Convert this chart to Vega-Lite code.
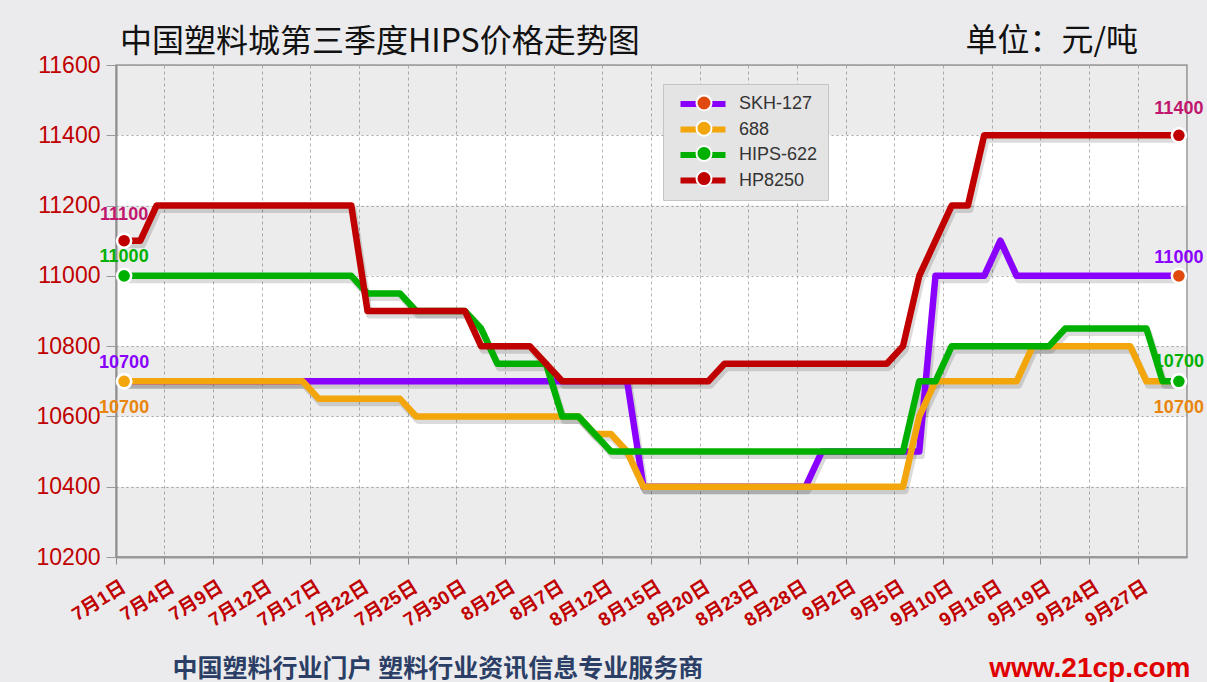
{
  "$schema": "https://vega.github.io/schema/vega-lite/v6.json",
  "width": 1071,
  "height": 492,
  "autosize": {"type": "none"},
  "padding": {"left": 116, "top": 65, "right": 20, "bottom": 125},
  "background": "#ebebed",
  "title": {
    "text": "中国塑料城第三季度HIPS价格走势图",
    "anchor": "start",
    "frame": "group",
    "offset": 15,
    "baseline": "alphabetic",
    "dx": 4,
    "dy": 75,
    "font": "Noto Sans CJK SC",
    "fontSize": 32,
    "fontWeight": "normal",
    "color": "#111111"
  },
  "config": {
    "view": {"fill": "#ffffff", "stroke": "#9a9a9a", "strokeWidth": 1.5}
  },
  "datasets": {
    "bands": [
      {"lo": 10200, "hi": 10400},
      {"lo": 10600, "hi": 10800},
      {"lo": 11000, "hi": 11200},
      {"lo": 11400, "hi": 11600}
    ],
    "prices": [
      {"d": "7月1日", "SKH-127": 10700, "688": 10700, "HIPS-622": 11000, "HP8250": 11100},
      {"d": "7月2日", "SKH-127": 10700, "688": 10700, "HIPS-622": 11000, "HP8250": 11100},
      {"d": "7月3日", "SKH-127": 10700, "688": 10700, "HIPS-622": 11000, "HP8250": 11200},
      {"d": "7月4日", "SKH-127": 10700, "688": 10700, "HIPS-622": 11000, "HP8250": 11200},
      {"d": "7月5日", "SKH-127": 10700, "688": 10700, "HIPS-622": 11000, "HP8250": 11200},
      {"d": "7月8日", "SKH-127": 10700, "688": 10700, "HIPS-622": 11000, "HP8250": 11200},
      {"d": "7月9日", "SKH-127": 10700, "688": 10700, "HIPS-622": 11000, "HP8250": 11200},
      {"d": "7月10日", "SKH-127": 10700, "688": 10700, "HIPS-622": 11000, "HP8250": 11200},
      {"d": "7月11日", "SKH-127": 10700, "688": 10700, "HIPS-622": 11000, "HP8250": 11200},
      {"d": "7月12日", "SKH-127": 10700, "688": 10700, "HIPS-622": 11000, "HP8250": 11200},
      {"d": "7月15日", "SKH-127": 10700, "688": 10700, "HIPS-622": 11000, "HP8250": 11200},
      {"d": "7月16日", "SKH-127": 10700, "688": 10700, "HIPS-622": 11000, "HP8250": 11200},
      {"d": "7月17日", "SKH-127": 10700, "688": 10650, "HIPS-622": 11000, "HP8250": 11200},
      {"d": "7月18日", "SKH-127": 10700, "688": 10650, "HIPS-622": 11000, "HP8250": 11200},
      {"d": "7月19日", "SKH-127": 10700, "688": 10650, "HIPS-622": 11000, "HP8250": 11200},
      {"d": "7月22日", "SKH-127": 10700, "688": 10650, "HIPS-622": 10950, "HP8250": 10900},
      {"d": "7月23日", "SKH-127": 10700, "688": 10650, "HIPS-622": 10950, "HP8250": 10900},
      {"d": "7月24日", "SKH-127": 10700, "688": 10650, "HIPS-622": 10950, "HP8250": 10900},
      {"d": "7月25日", "SKH-127": 10700, "688": 10600, "HIPS-622": 10900, "HP8250": 10900},
      {"d": "7月26日", "SKH-127": 10700, "688": 10600, "HIPS-622": 10900, "HP8250": 10900},
      {"d": "7月29日", "SKH-127": 10700, "688": 10600, "HIPS-622": 10900, "HP8250": 10900},
      {"d": "7月30日", "SKH-127": 10700, "688": 10600, "HIPS-622": 10900, "HP8250": 10900},
      {"d": "7月31日", "SKH-127": 10700, "688": 10600, "HIPS-622": 10850, "HP8250": 10800},
      {"d": "8月1日", "SKH-127": 10700, "688": 10600, "HIPS-622": 10750, "HP8250": 10800},
      {"d": "8月2日", "SKH-127": 10700, "688": 10600, "HIPS-622": 10750, "HP8250": 10800},
      {"d": "8月5日", "SKH-127": 10700, "688": 10600, "HIPS-622": 10750, "HP8250": 10800},
      {"d": "8月6日", "SKH-127": 10700, "688": 10600, "HIPS-622": 10750, "HP8250": 10750},
      {"d": "8月7日", "SKH-127": 10700, "688": 10600, "HIPS-622": 10600, "HP8250": 10700},
      {"d": "8月8日", "SKH-127": 10700, "688": 10600, "HIPS-622": 10600, "HP8250": 10700},
      {"d": "8月9日", "SKH-127": 10700, "688": 10550, "HIPS-622": 10550, "HP8250": 10700},
      {"d": "8月12日", "SKH-127": 10700, "688": 10550, "HIPS-622": 10500, "HP8250": 10700},
      {"d": "8月13日", "SKH-127": 10700, "688": 10500, "HIPS-622": 10500, "HP8250": 10700},
      {"d": "8月14日", "SKH-127": 10400, "688": 10400, "HIPS-622": 10500, "HP8250": 10700},
      {"d": "8月15日", "SKH-127": 10400, "688": 10400, "HIPS-622": 10500, "HP8250": 10700},
      {"d": "8月16日", "SKH-127": 10400, "688": 10400, "HIPS-622": 10500, "HP8250": 10700},
      {"d": "8月19日", "SKH-127": 10400, "688": 10400, "HIPS-622": 10500, "HP8250": 10700},
      {"d": "8月20日", "SKH-127": 10400, "688": 10400, "HIPS-622": 10500, "HP8250": 10700},
      {"d": "8月21日", "SKH-127": 10400, "688": 10400, "HIPS-622": 10500, "HP8250": 10750},
      {"d": "8月22日", "SKH-127": 10400, "688": 10400, "HIPS-622": 10500, "HP8250": 10750},
      {"d": "8月23日", "SKH-127": 10400, "688": 10400, "HIPS-622": 10500, "HP8250": 10750},
      {"d": "8月26日", "SKH-127": 10400, "688": 10400, "HIPS-622": 10500, "HP8250": 10750},
      {"d": "8月27日", "SKH-127": 10400, "688": 10400, "HIPS-622": 10500, "HP8250": 10750},
      {"d": "8月28日", "SKH-127": 10400, "688": 10400, "HIPS-622": 10500, "HP8250": 10750},
      {"d": "8月29日", "SKH-127": 10500, "688": 10400, "HIPS-622": 10500, "HP8250": 10750},
      {"d": "8月30日", "SKH-127": 10500, "688": 10400, "HIPS-622": 10500, "HP8250": 10750},
      {"d": "9月2日", "SKH-127": 10500, "688": 10400, "HIPS-622": 10500, "HP8250": 10750},
      {"d": "9月3日", "SKH-127": 10500, "688": 10400, "HIPS-622": 10500, "HP8250": 10750},
      {"d": "9月4日", "SKH-127": 10500, "688": 10400, "HIPS-622": 10500, "HP8250": 10750},
      {"d": "9月5日", "SKH-127": 10500, "688": 10400, "HIPS-622": 10500, "HP8250": 10800},
      {"d": "9月6日", "SKH-127": 10500, "688": 10600, "HIPS-622": 10700, "HP8250": 11000},
      {"d": "9月9日", "SKH-127": 11000, "688": 10700, "HIPS-622": 10700, "HP8250": 11100},
      {"d": "9月10日", "SKH-127": 11000, "688": 10700, "HIPS-622": 10800, "HP8250": 11200},
      {"d": "9月11日", "SKH-127": 11000, "688": 10700, "HIPS-622": 10800, "HP8250": 11200},
      {"d": "9月12日", "SKH-127": 11000, "688": 10700, "HIPS-622": 10800, "HP8250": 11400},
      {"d": "9月16日", "SKH-127": 11100, "688": 10700, "HIPS-622": 10800, "HP8250": 11400},
      {"d": "9月17日", "SKH-127": 11000, "688": 10700, "HIPS-622": 10800, "HP8250": 11400},
      {"d": "9月18日", "SKH-127": 11000, "688": 10800, "HIPS-622": 10800, "HP8250": 11400},
      {"d": "9月19日", "SKH-127": 11000, "688": 10800, "HIPS-622": 10800, "HP8250": 11400},
      {"d": "9月22日", "SKH-127": 11000, "688": 10800, "HIPS-622": 10850, "HP8250": 11400},
      {"d": "9月23日", "SKH-127": 11000, "688": 10800, "HIPS-622": 10850, "HP8250": 11400},
      {"d": "9月24日", "SKH-127": 11000, "688": 10800, "HIPS-622": 10850, "HP8250": 11400},
      {"d": "9月25日", "SKH-127": 11000, "688": 10800, "HIPS-622": 10850, "HP8250": 11400},
      {"d": "9月26日", "SKH-127": 11000, "688": 10800, "HIPS-622": 10850, "HP8250": 11400},
      {"d": "9月27日", "SKH-127": 11000, "688": 10700, "HIPS-622": 10850, "HP8250": 11400},
      {"d": "9月29日", "SKH-127": 11000, "688": 10700, "HIPS-622": 10700, "HP8250": 11400},
      {"d": "9月30日", "SKH-127": 11000, "688": 10700, "HIPS-622": 10700, "HP8250": 11400}
    ]
  },
  "resolve": {"scale": {"y": "independent"}},
  "layer": [
    {
      "data": {"name": "bands"},
      "mark": {"type": "rect", "fill": "#000000", "fillOpacity": 0.075},
      "encoding": {
        "y": {
          "field": "lo",
          "type": "quantitative",
          "scale": {"domain": [10200, 11600], "nice": false, "zero": false},
          "axis": {
            "orient": "right",
            "labels": false,
            "ticks": false,
            "domain": false,
            "grid": false,
            "title": "www.21cp.com",
            "titleAngle": 0,
            "titleX": 3,
            "titleY": 611,
            "titleAlign": "right",
            "titleBaseline": "alphabetic",
            "titleColor": "#e00000",
            "titleFont": "Liberation Sans",
            "titleFontSize": 28,
            "titleFontWeight": "bold"
          }
        },
        "y2": {"field": "hi"}
      }
    },
    {
      "data": {"name": "prices"},
      "transform": [
        {"fold": ["SKH-127", "688", "HIPS-622", "HP8250"], "as": ["series", "price"]}
      ],
      "encoding": {
        "x": {
          "field": "d",
          "type": "ordinal",
          "sort": null,
          "bandPosition": 0.5,
          "scale": {"type": "band", "paddingInner": 0, "paddingOuter": 0},
          "axis": {
            "values": ["7月1日", "7月4日", "7月9日", "7月12日", "7月17日", "7月22日", "7月25日", "7月30日", "8月2日", "8月7日", "8月12日", "8月15日", "8月20日", "8月23日", "8月28日", "9月2日", "9月5日", "9月10日", "9月16日", "9月19日", "9月24日", "9月27日"],
            "bandPosition": 0,
            "labelOffset": -5,
            "labelAngle": -32,
            "labelAlign": "right",
            "labelBaseline": "top",
            "labelPadding": 13,
            "labelOverlap": false,
            "labelColor": "#c00000",
            "labelFont": "Liberation Sans, Noto Sans CJK SC",
            "labelFontSize": 19,
            "labelFontWeight": "bold",
            "tickColor": "#888888",
            "tickSize": 7,
            "domainColor": "#999999",
            "domainWidth": 2,
            "grid": true,
            "gridColor": "#b5b5b5",
            "gridDash": [3, 3],
            "title": "中国塑料行业门户 塑料行业资讯信息专业服务商",
            "titleX": 56,
            "titleY": 119,
            "titleAlign": "left",
            "titleAnchor": "start",
            "titleBaseline": "alphabetic",
            "titleColor": "#2b3f66",
            "titleFont": "Noto Sans CJK SC",
            "titleFontSize": 25,
            "titleFontWeight": "bold"
          }
        },
        "y": {
          "field": "price",
          "type": "quantitative",
          "scale": {"domain": [10200, 11600], "nice": false, "zero": false},
          "axis": {
            "orient": "left",
            "values": [10200, 10400, 10600, 10800, 11000, 11200, 11400, 11600],
            "format": "d",
            "labelColor": "#c00000",
            "labelFont": "Liberation Sans",
            "labelFontSize": 23,
            "labelPadding": 6,
            "tickColor": "#999999",
            "tickSize": 10,
            "domainColor": "#999999",
            "domainWidth": 2,
            "grid": true,
            "gridColor": "#a8a8a8",
            "gridDash": [2, 3],
            "title": "单位：元/吨",
            "titleAngle": 0,
            "titleX": 849,
            "titleY": -15,
            "titleAlign": "left",
            "titleBaseline": "alphabetic",
            "titleColor": "#111111",
            "titleFont": "Noto Sans CJK SC",
            "titleFontSize": 32,
            "titleFontWeight": "normal"
          }
        }
      },
      "layer": [
        {
          "mark": {"type": "line", "stroke": "#000000", "strokeOpacity": 0.14, "strokeWidth": 7, "xOffset": 2, "yOffset": 4, "strokeJoin": "round"},
          "encoding": {"detail": {"field": "series"}}
        },
        {
          "mark": {"type": "line", "strokeWidth": 6.5, "strokeJoin": "round"},
          "encoding": {
            "color": {
              "field": "series",
              "type": "nominal",
              "scale": {
                "domain": ["SKH-127", "688", "HIPS-622", "HP8250"],
                "range": ["#8a00ff", "#f2a60c", "#00b000", "#c00000"]
              },
              "legend": {
                "title": null,
                "orient": "none",
                "legendX": 547,
                "legendY": 19,
                "padding": 10,
                "fillColor": "#e4e4e4",
                "strokeColor": "#c4c4c4",
                "symbolType": "M-2.25,-0.3 L2.25,-0.3 L2.25,0.3 L-2.25,0.3 Z",
                "symbolSize": 400,
                "symbolOffset": 20,
                "symbolStrokeWidth": 0,
                "labelOffset": 26,
                "rowPadding": 6.5,
                "labelFont": "Liberation Sans",
                "labelFontSize": 18,
                "labelColor": "#333333",
                "encode": {
                  "symbols": {
                    "update": {
                      "fill": {"scale": "color", "field": "value"},
                      "fillOpacity": {"value": 1},
                      "strokeWidth": {"value": 0}
                    }
                  }
                }
              }
            }
          }
        },
        {
          "transform": [{"filter": {"field": "d", "oneOf": ["7月1日", "9月30日"]}}],
          "mark": {"type": "circle", "size": 200, "opacity": 1, "stroke": "#ffffff", "strokeWidth": 2.5},
          "encoding": {
            "fill": {
              "field": "series",
              "type": "nominal",
              "scale": {
                "domain": ["HP8250", "HIPS-622", "688", "SKH-127"],
                "range": ["#c00000", "#00b000", "#f2a60c", "#e04a0e"]
              },
              "legend": {
                "title": null,
                "values": ["SKH-127", "688", "HIPS-622", "HP8250"],
                "orient": "none",
                "legendX": 547,
                "legendY": 17,
                "padding": 10,
                "fillColor": "transparent",
                "strokeColor": "transparent",
                "symbolType": "M0.75,0 A0.75,0.75 0 1 1 -0.75,0 A0.75,0.75 0 1 1 0.75,0 Z",
                "symbolSize": 400,
                "symbolOffset": 20,
                "symbolStrokeColor": "#ffffff",
                "symbolStrokeWidth": 2,
                "labelOffset": 26,
                "rowPadding": 1.2,
                "labelFont": "Liberation Sans",
                "labelFontSize": 18,
                "labelOpacity": 0
              }
            }
          }
        },
        {
          "transform": [
            {"filter": {"field": "d", "oneOf": ["7月1日", "9月30日"]}},
            {"filter": {"field": "series", "equal": "SKH-127"}}
          ],
          "mark": {"type": "text", "dy": -18, "baseline": "middle", "align": "center", "font": "Liberation Sans", "fontSize": 18, "fontWeight": "bold", "fill": "#8a00ff"},
          "encoding": {"text": {"field": "price", "type": "quantitative", "format": "d"}}
        },
        {
          "transform": [
            {"filter": {"field": "d", "oneOf": ["7月1日", "9月30日"]}},
            {"filter": {"field": "series", "equal": "688"}}
          ],
          "mark": {"type": "text", "dy": 27, "baseline": "middle", "align": "center", "font": "Liberation Sans", "fontSize": 18, "fontWeight": "bold", "fill": "#e8850c"},
          "encoding": {"text": {"field": "price", "type": "quantitative", "format": "d"}}
        },
        {
          "transform": [
            {"filter": {"field": "d", "oneOf": ["7月1日", "9月30日"]}},
            {"filter": {"field": "series", "equal": "HIPS-622"}}
          ],
          "mark": {"type": "text", "dy": -19, "baseline": "middle", "align": "center", "font": "Liberation Sans", "fontSize": 18, "fontWeight": "bold", "fill": "#00b000"},
          "encoding": {"text": {"field": "price", "type": "quantitative", "format": "d"}}
        },
        {
          "transform": [
            {"filter": {"field": "d", "oneOf": ["7月1日", "9月30日"]}},
            {"filter": {"field": "series", "equal": "HP8250"}}
          ],
          "mark": {"type": "text", "dy": -26, "baseline": "middle", "align": "center", "font": "Liberation Sans", "fontSize": 18, "fontWeight": "bold", "fill": "#c0166e"},
          "encoding": {"text": {"field": "price", "type": "quantitative", "format": "d"}}
        }
      ]
    }
  ]
}
